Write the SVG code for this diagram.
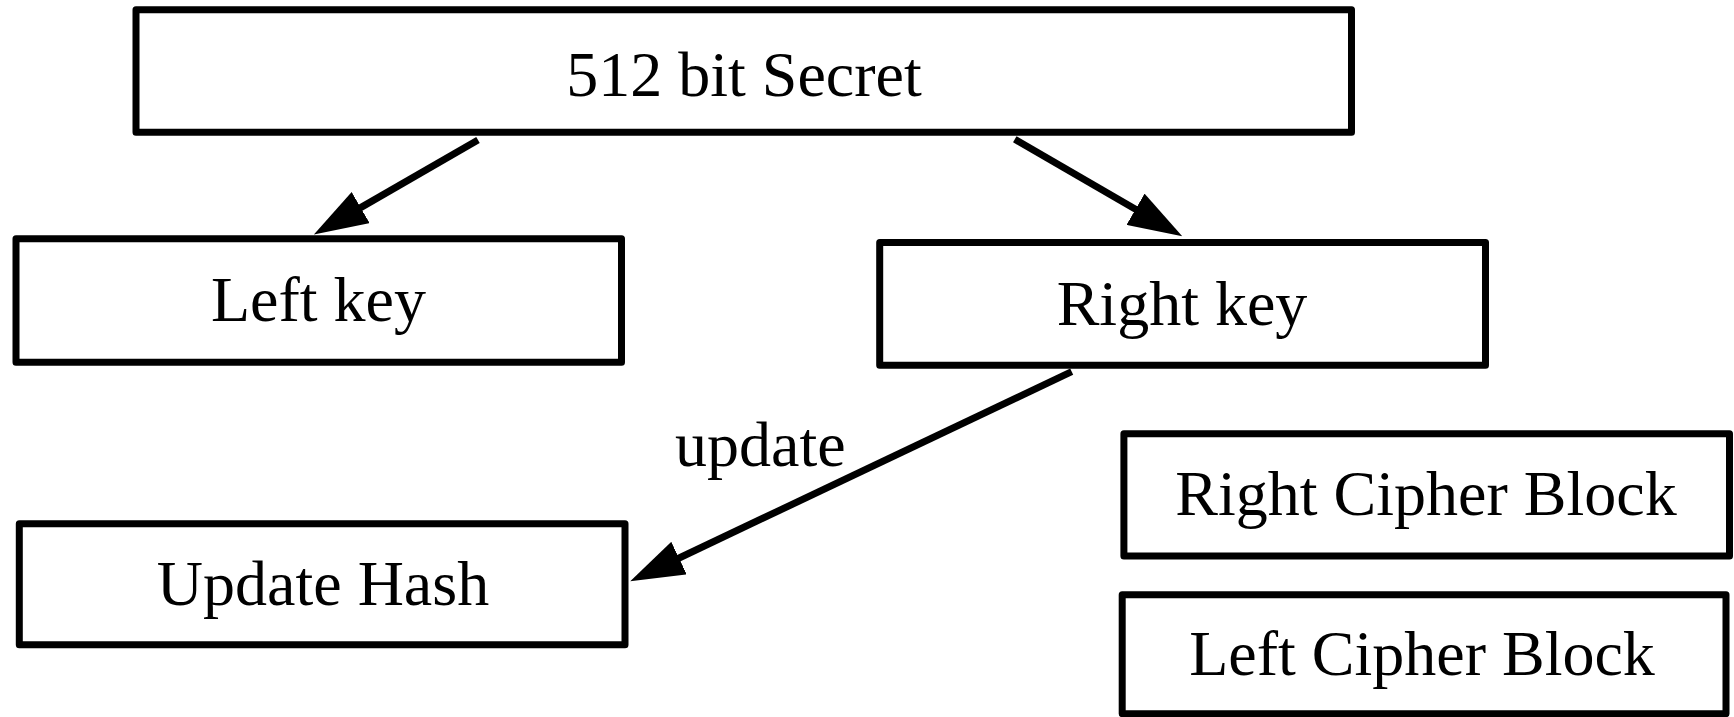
<svg xmlns="http://www.w3.org/2000/svg" width="1734" height="717" viewBox="0 0 1734 717">
<style>
.box{fill:#fff;stroke:#000;stroke-width:7;stroke-linejoin:round}
.lbl{font-family:"Liberation Serif","Times New Roman",serif;font-size:64px;fill:#000;text-anchor:middle}
.edge{stroke:#000;stroke-width:7;fill:none}
</style>
<defs>
<marker id="arr" viewBox="0 0 54 36" refX="1" refY="18" markerWidth="54" markerHeight="36" markerUnits="userSpaceOnUse" orient="auto">
<path d="M0,0 L54,18 L0,36 Z" fill="#000"/>
</marker>
</defs>
<rect width="1734" height="717" fill="#fff"/>
<g id="secret">
<rect class="box" x="136" y="9.7" width="1215.5" height="122.6"/>
<text class="lbl" x="744" y="96">512 bit Secret</text>
</g>
<g id="leftkey">
<rect class="box" x="16" y="238.8" width="605.5" height="123.4"/>
<text class="lbl" x="318.5" y="320.7">Left key</text>
</g>
<g id="rightkey">
<rect class="box" x="879.7" y="242.5" width="605.8" height="122.8"/>
<text class="lbl" x="1182" y="325.3">Right key</text>
</g>
<g id="updatehash">
<rect class="box" x="19.3" y="523.7" width="605.7" height="121"/>
<text class="lbl" x="323" y="605">Update Hash</text>
</g>
<g id="rightcipher">
<rect class="box" x="1123.9" y="433.7" width="605.6" height="122.3"/>
<text class="lbl" x="1426" y="515">Right Cipher Block</text>
</g>
<g id="leftcipher">
<rect class="box" x="1122.2" y="594.7" width="603.8" height="119"/>
<text class="lbl" x="1422" y="675">Left Cipher Block</text>
</g>
<g id="connectors">
<line class="edge" x1="478" y1="140" x2="359.8" y2="208.1" marker-end="url(#arr)"/>
<line class="edge" x1="1014.8" y1="139.3" x2="1136.4" y2="209.7" marker-end="url(#arr)"/>
<line class="edge" x1="1071.7" y1="371.7" x2="678.1" y2="558.5" marker-end="url(#arr)"/>
<text class="lbl" x="760.3" y="466">update</text>
</g>
</svg>
